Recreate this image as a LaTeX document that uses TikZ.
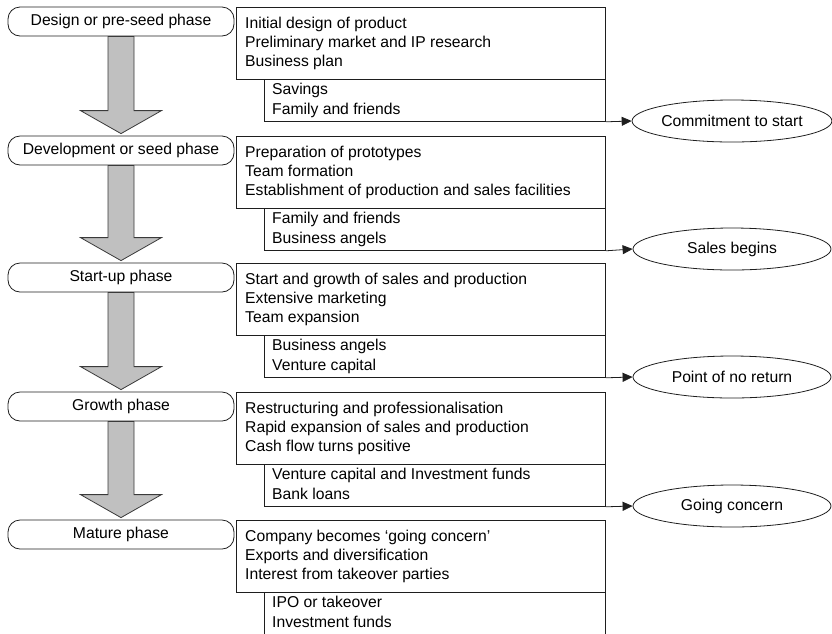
\documentclass[tikz,border=0pt]{standalone}
\usepackage{fontspec}
\setmainfont{Liberation Sans}
\usetikzlibrary{arrows.meta,calc,shapes.geometric}

\definecolor{edge}{HTML}{1E1E1E}
\definecolor{arrowfill}{HTML}{C0C0C0}
\definecolor{arrowline}{HTML}{3A3A3A}

\tikzset{
  phasebox/.style={draw=edge, line width=0.8pt, rounded corners=12pt,
    minimum width=226pt, minimum height=29pt, inner sep=0pt},
  mainbox/.style={draw=edge, line width=0.8pt, anchor=north west,
    minimum width=369pt, minimum height=72pt, inner sep=0pt},
  subbox/.style={draw=edge, line width=0.8pt, anchor=north west,
    minimum width=341pt, minimum height=42pt, inner sep=0pt},
  milestone/.style={ellipse, draw=edge, line width=0.8pt,
    minimum width=198pt, minimum height=42pt, inner sep=0pt},
  itemtext/.style={anchor=base west, inner sep=0pt},
  bigarrow/.style={fill=arrowfill, draw=arrowline, line width=0.8pt, line join=miter},
  toevent/.style={draw=edge, line width=0.8pt, -{Triangle[length=10pt,width=9pt]}}
}

% #1 index, #2 top, #3 phase, #4-#6 activities, #7-#8 financing
\newcommand\stagerow[8]{%
  \node[phasebox] (p#1) at (121,#2+14.5) {#3};
  \node[mainbox] (m#1) at (236,#2) {};
  \node[itemtext] (a#1x) at (245,#2+21.5) {#4};
  \node[itemtext] (a#1y) at (245,#2+40.5) {#5};
  \node[itemtext] (a#1z) at (245,#2+59.5) {#6};
  \node[itemtext] (f#1x) at (272,#2+87.5) {#7};
  \node[itemtext] (f#1y) at (272,#2+107.5) {#8};
}

\begin{document}
\begin{tikzpicture}[x=1pt,y=-1pt,font=\fontsize{15.7}{19}\selectfont]
\useasboundingbox (0,0) rectangle (832,633);

\stagerow{1}{7}{Design or pre-seed phase}
  {Initial design of product}{Preliminary market and IP research}{Business plan}
  {Savings}{Family and friends}
\stagerow{2}{136}{Development or seed phase}
  {Preparation of prototypes}{Team formation}{Establishment of production and sales facilities}
  {Family and friends}{Business angels}
\stagerow{3}{263}{Start-up phase}
  {Start and growth of sales and production}{Extensive marketing}{Team expansion}
  {Business angels}{Venture capital}
\stagerow{4}{392}{Growth phase}
  {Restructuring and professionalisation}{Rapid expansion of sales and production}{Cash flow turns positive}
  {Venture capital and Investment funds}{Bank loans}
\stagerow{5}{520}{Mature phase}
  {Company becomes `going concern'}{Exports and diversification}{Interest from takeover parties}
  {IPO or takeover}{Investment funds}

% financing boxes below each activity box
\node[subbox] (s1) at (264,79) {};
\node[subbox] (s2) at (264,208) {};
\node[subbox] (s3) at (264,335) {};
\node[subbox] (s4) at (264,464) {};
\node[subbox, draw=none, minimum height=50pt] (s5) at (264,592) {};
\draw[edge, line width=0.8pt] (s5.south west) -- (s5.north west) (s5.north east) -- (s5.south east);

% milestones
\node[milestone] (e1) at (732,121) {Commitment to start};
\node[milestone] (e2) at (732,249) {Sales begins};
\node[milestone] (e3) at (732,377) {Point of no return};
\node[milestone] (e4) at (732,506) {Going concern};

\foreach \i in {1,...,4} {
  \draw[toevent] (s\i.south east) -- (e\i.west);
}

% broad grey arrows between phases
\foreach \i/\j in {1/2,2/3,3/4,4/5} {
  \draw[bigarrow]
    ($(p\i.south)+(-13,0)$) -- ($(p\j.north)+(-13,-25)$) -- ($(p\j.north)+(-40.5,-25)$)
    -- ($(p\j.north)+(0,-2)$) -- ($(p\j.north)+(40.5,-25)$) -- ($(p\j.north)+(13,-25)$)
    -- ($(p\i.south)+(13,0)$) -- cycle;
}
\end{tikzpicture}
\end{document}
